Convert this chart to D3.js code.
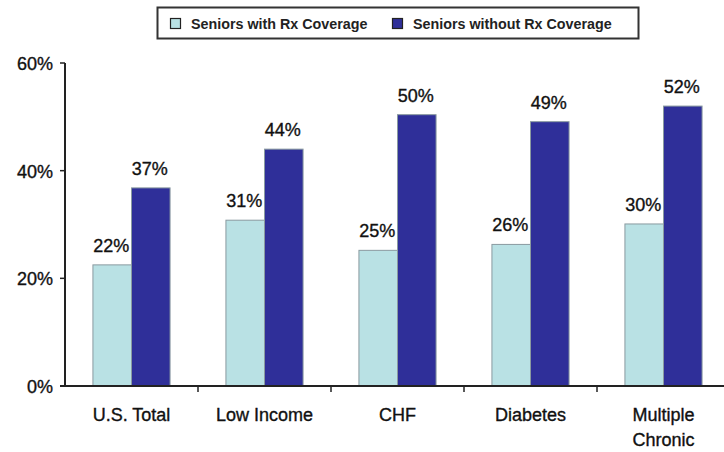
<!DOCTYPE html>
<html><head><meta charset="utf-8">
<script src="https://cdn.jsdelivr.net/npm/d3@7"></script>
<style>body{margin:0;background:#fff}svg{display:block}text{font-family:"Liberation Sans",Arial,sans-serif}</style>
</head><body><svg id="c" width="724" height="452"></svg>
<script>
const categories = [["U.S. Total"],["Low Income"],["CHF"],["Diabetes"],["Multiple","Chronic"]];
const seriesNames = ["Seniors with Rx Coverage","Seniors without Rx Coverage"];
const withRx = [22.5, 30.8, 25.2, 26.3, 30.1];
const withoutRx = [36.8, 44.0, 50.4, 49.1, 52.0];
const withLabels = ["22%","31%","25%","26%","30%"];
const withoutLabels = ["37%","44%","50%","49%","52%"];
const yTicks = [0,20,40,60];
const colors = ["#b9e1e4","#2f2f99"];

const svg = d3.select("#c");
const x0 = 65, x1 = 730, yTop = 63, yBot = 386;
const x = d3.scaleBand().domain(d3.range(categories.length)).range([x0,x1]).paddingInner(0.42).paddingOuter(0.21);
const sub = d3.scaleBand().domain([0,1]).range([0,x.bandwidth()]);
const y = d3.scaleLinear().domain([0,60]).range([yBot,yTop]);
const step = (x1-x0)/categories.length;
const txt = sel => sel.attr("fill","#111").attr("stroke","#111").attr("stroke-width",0.35);

// bars
const series = [withRx, withoutRx];
const labels = [withLabels, withoutLabels];
series.forEach((vals,s)=>{
  svg.append("g").selectAll("rect").data(vals).join("rect")
    .attr("x",(d,i)=>x(i)+sub(s)).attr("y",d=>y(d))
    .attr("width",sub.bandwidth()).attr("height",d=>y(0)-y(d))
    .attr("fill",colors[s]).attr("stroke","#8a9aa0").attr("stroke-width",1);
  svg.append("g").selectAll("text").data(vals).join("text")
    .attr("x",(d,i)=>x(i)+sub(s)+sub.bandwidth()/2-1).attr("y",d=>y(d)-13)
    .attr("text-anchor","middle").attr("font-size",18).call(txt)
    .text((d,i)=>labels[s][i]);
});

// y axis
const ya = svg.append("g");
ya.append("line").attr("x1",x0).attr("x2",x0).attr("y1",yTop).attr("y2",yBot+1).attr("stroke","#222").attr("stroke-width",2);
ya.selectAll("line.t").data(yTicks).join("line").attr("class","t")
  .attr("x1",x0-5).attr("x2",x0).attr("y1",d=>y(d)).attr("y2",d=>y(d)).attr("stroke","#222").attr("stroke-width",1.5);
ya.selectAll("text").data(yTicks).join("text")
  .attr("x",x0-12).attr("y",d=>y(d)+7).attr("text-anchor","end").attr("font-size",18).call(txt)
  .text(d=>d+"%");

// x axis
const xa = svg.append("g");
xa.append("line").attr("x1",x0-5).attr("x2",x1).attr("y1",yBot).attr("y2",yBot).attr("stroke","#222").attr("stroke-width",2);
xa.selectAll("line.t").data(d3.range(1,categories.length)).join("line").attr("class","t")
  .attr("x1",d=>x0+d*step).attr("x2",d=>x0+d*step).attr("y1",yBot).attr("y2",yBot+6).attr("stroke","#222").attr("stroke-width",1.5);
categories.forEach((lines,i)=>{
  const t = xa.append("text").attr("text-anchor","middle").attr("font-size",18).call(txt);
  lines.forEach((l,j)=>t.append("tspan").attr("x",x(i)+x.bandwidth()/2).attr("y",421+j*25).text(l));
});

// legend
const lg = svg.append("g");
lg.append("rect").attr("x",157.5).attr("y",7.5).attr("width",481).attr("height",31).attr("fill","#fff").attr("stroke","#333").attr("stroke-width",2);
const lx = [170, 392];
seriesNames.forEach((n,i)=>{
  lg.append("rect").attr("x",lx[i]+0.5).attr("y",18.5).attr("width",10).attr("height",10).attr("fill",colors[i]).attr("stroke","#222").attr("stroke-width",1.2);
  lg.append("text").attr("x",lx[i]+21).attr("y",28.5).attr("font-size",14.3).attr("font-weight","bold").attr("fill","#222").text(n);
});
</script></body></html>
